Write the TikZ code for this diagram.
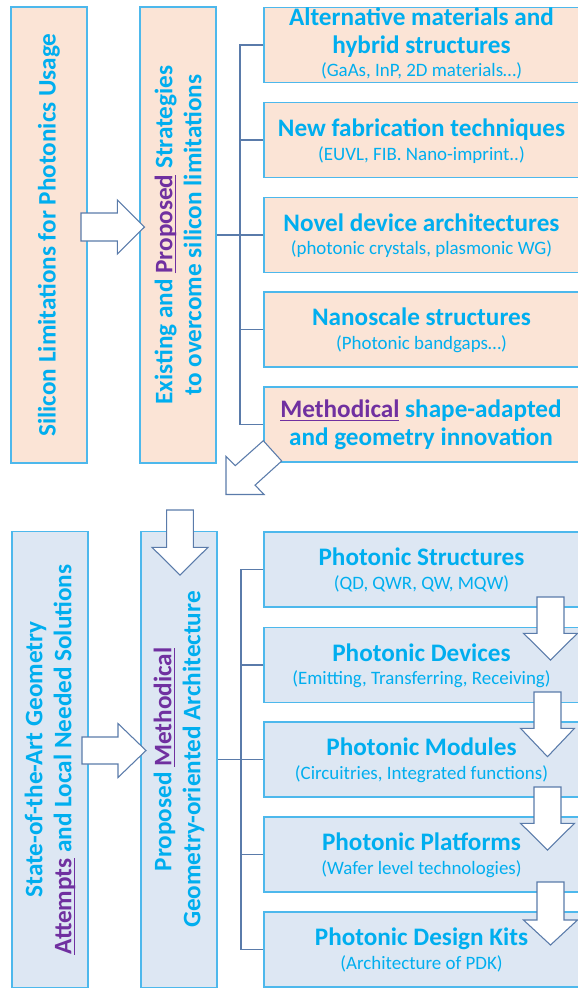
\documentclass[tikz,border=0pt]{standalone}
\usepackage{fontspec}
\setmainfont{Carlito}
\definecolor{tblue}{HTML}{00AEEF}
\definecolor{bord}{HTML}{4DB8EC}
\definecolor{steel}{HTML}{5A7BAA}
\definecolor{peach}{HTML}{FBE4D6}
\definecolor{lblue}{HTML}{DDE7F3}
\definecolor{ppurple}{HTML}{7030A0}
\newsavebox\ulbox
\newcommand\pul[1]{\sbox\ulbox{#1}\rlap{\rule[-3pt]{\wd\ulbox}{1pt}}\usebox\ulbox}
\begin{document}
\begin{tikzpicture}[x=0.75pt,y=-0.75pt,
  boxbase/.style={draw=bord, line width=1.1pt, inner sep=0pt},
  vbox/.style={boxbase, minimum width=57pt, minimum height=342pt},
  hbox/.style={boxbase, minimum width=237pt, minimum height=56.25pt},
  peachbox/.style={fill=peach},
  bluebox/.style={fill=lblue},
  vtext/.style={rotate=90, align=center, text=tblue, inner sep=0pt,
    font=\bfseries\fontsize{18.9}{21.75}\selectfont},
  ttl/.style={anchor=base, text=tblue, inner sep=0pt,
    font=\bfseries\fontsize{18.9}{21}\selectfont},
  sub/.style={anchor=base, text=tblue, inner sep=0pt,
    font=\fontsize{14.2}{17}\selectfont},
  tree/.style={draw=steel, line width=0.95pt},
  barrow/.style={draw=steel, fill=white, line width=0.8pt, line join=miter}
]
\useasboundingbox (0,0) rectangle (578,990);
\clip (0,0) rectangle (578,990);

% ---------- top half ----------
\node[vbox, peachbox] (B1) at (49,235) {};
\node[vbox, peachbox] (B2) at (178,235) {};
\node[hbox, peachbox] (RA) at (422,45) {};
\node[hbox, peachbox] (RB) at (422,140) {};
\node[hbox, peachbox] (RC) at (422,235) {};
\node[hbox, peachbox] (RD) at (422,329.5) {};
\node[hbox, peachbox] (RE) at (422,424.5) {};

\coordinate (tx1) at (240,0);
\draw[tree] (B2.east) -- (B2.east -| tx1);
\draw[tree] (RA.west) -- (RA.west -| tx1) -- (RE.west -| tx1) -- (RE.west);
\draw[tree] (RB.west) -- (RB.west -| tx1);
\draw[tree] (RC.west) -- (RC.west -| tx1);
\draw[tree] (RD.west) -- (RD.west -| tx1);

\node[vtext] (T1) at (B1.center) {Silicon Limitations for Photonics Usage};
\node[vtext] (T2) at (B2.center) {Existing and \textcolor{ppurple}{\pul{Proposed}} Strategies\\to overcome silicon limitations};

\node[ttl] (A1) at (421.5,25.7) {Alternative materials and};
\node[ttl] (A2) at (421.5,53.3) {hybrid structures};
\node[sub] (A3) at (421.5,76.7) {(GaAs, InP, 2D materials…)};
\node[ttl] (Bt) at (421.5,136.2) {New fabrication techniques};
\node[sub] (Bs) at (421.5,160.5) {(EUVL, FIB. Nano-imprint..)};
\node[ttl] (Ct) at (421.5,231.2) {Novel device architectures};
\node[sub] (Cs) at (421.5,254.8) {(photonic crystals, plasmonic WG)};
\node[ttl] (Dt) at (421.5,325.7) {Nanoscale structures};
\node[sub] (Ds) at (421.5,349.3) {(Photonic bandgaps…)};
\node[ttl] (E1) at (421,417) {\textcolor{ppurple}{\pul{Methodical}} shape-adapted};
\node[ttl] (E2) at (421,445) {and geometry innovation};

% arrows top
\draw[barrow] (81,213) -- (117.3,213) -- (117.3,200) -- (144.5,227) -- (117.3,254) -- (117.3,241) -- (81,241) -- cycle;
\draw[barrow] (263.3,440.7) -- (281.7,461) -- (255,485.2) -- (264.2,494.5) -- (226,494.5) -- (226,456.3) -- (235.3,465.6) -- cycle;

% ---------- bottom half ----------
\node[vbox, bluebox] (B3) at (50,759.5) {};
\node[vbox, bluebox] (B4) at (179,759.5) {};
\node[hbox, bluebox] (RS) at (422,569.5) {};
\node[hbox, bluebox] (RV) at (422,665) {};
\node[hbox, bluebox] (RM) at (422,759.5) {};
\node[hbox, bluebox] (RP) at (422,854.5) {};
\node[hbox, bluebox] (RK) at (422,949.5) {};

\coordinate (tx2) at (241,0);
\draw[tree] (B4.east) -- (B4.east -| tx2);
\draw[tree] (RS.west) -- (RS.west -| tx2) -- (RK.west -| tx2) -- (RK.west);
\draw[tree] (RV.west) -- (RV.west -| tx2);
\draw[tree] (RM.west) -- (RM.west -| tx2);
\draw[tree] (RP.west) -- (RP.west -| tx2);

\node[vtext] (T3) at (B3.center) {State-of-the-Art Geometry\\\textcolor{ppurple}{\pul{Attempts}} and Local Needed Solutions};
\node[vtext] (T4) at (B4.center) {Proposed \textcolor{ppurple}{\pul{Methodical}}\\Geometry-oriented Architecture};

\node[ttl] (St) at (421.5,565.7) {Photonic Structures};
\node[sub] (Ss) at (421.5,589.3) {(QD, QWR, QW, MQW)};
\node[ttl] (Vt) at (421.5,661) {Photonic Devices};
\node[sub] (Vs) at (421.5,684.3) {(Emitting, Transferring, Receiving)};
\node[ttl] (Mt) at (421.5,755.7) {Photonic Modules};
\node[sub] (Ms) at (421.5,779.3) {(Circuitries, Integrated functions)};
\node[ttl] (Pt) at (421.5,850.5) {Photonic Platforms};
\node[sub] (Ps) at (421.5,874) {(Wafer level technologies)};
\node[ttl] (Kt) at (421.5,945) {Photonic Design Kits};
\node[sub] (Ks) at (421.5,969) {(Architecture of PDK)};

% arrows bottom
\draw[barrow] (82,737) -- (118,737) -- (118,723.5) -- (146,750.5) -- (118,777.5) -- (118,764) -- (82,764) -- cycle;
\draw[barrow] (166.7,510) -- (193.3,510) -- (193.3,547.3) -- (208,547.3) -- (180,575) -- (152,547.3) -- (166.7,547.3) -- cycle;
\draw[barrow] (537,597) -- (564,597) -- (564,633.3) -- (577.5,633.3) -- (550.5,660) -- (523.5,633.3) -- (537,633.3) -- cycle;
\draw[barrow] (534,692) -- (561,692) -- (561,728.3) -- (574.5,728.3) -- (547.5,756.7) -- (520.5,728.3) -- (534,728.3) -- cycle;
\draw[barrow] (534,787) -- (561,787) -- (561,823.3) -- (574.5,823.3) -- (547.5,850) -- (520.5,823.3) -- (534,823.3) -- cycle;
\draw[barrow] (537,882) -- (564,882) -- (564,920) -- (577.5,920) -- (550.5,945) -- (523.5,920) -- (537,920) -- cycle;
\end{tikzpicture}
\end{document}
